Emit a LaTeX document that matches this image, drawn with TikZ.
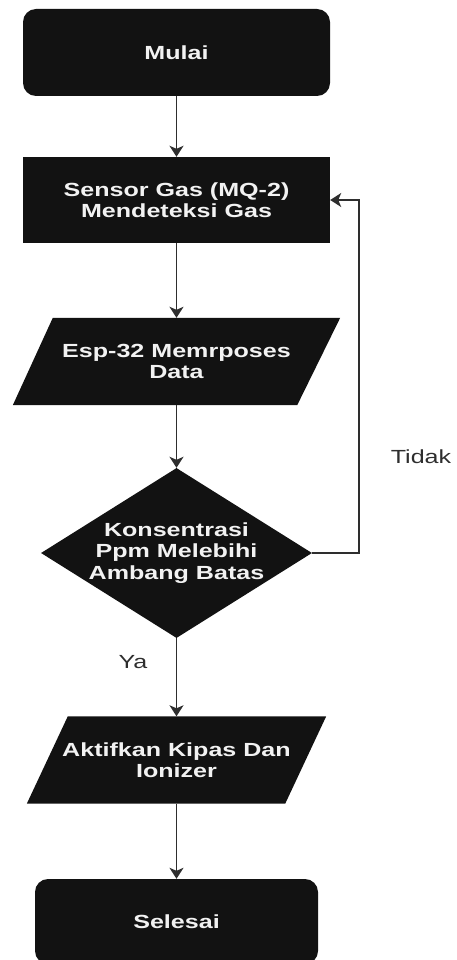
\documentclass[tikz,border=0pt]{standalone}
\usepackage{fontspec}
\setmainfont{Liberation Sans}[FakeStretch=1.32]
\usetikzlibrary{arrows.meta,shapes.geometric,backgrounds,calc}
\definecolor{boxc}{HTML}{121212}
\definecolor{txtc}{HTML}{F2F2F2}
\definecolor{linec}{HTML}{2E2E2E}
\begin{document}
\begin{tikzpicture}[x=1pt,y=-1pt,
  base/.style={inner sep=0pt, align=center, text=txtc,
    font=\fontsize{19}{21.5}\selectfont\bfseries},
  termbox/.style={base, rectangle, rounded corners=13pt, fill=boxc,
    minimum width=307pt, minimum height=87pt},
  procbox/.style={base, rectangle, fill=boxc,
    minimum width=307pt, minimum height=86pt},
  iobox/.style={base, rectangle, minimum height=87pt},
  decbox/.style={base, diamond, fill=boxc,
    minimum width=271pt, minimum height=170pt},
  lbl/.style={text=linec, inner sep=0pt, font=\fontsize{19}{21.5}\selectfont},
  arr/.style={draw=linec, line width=1.5pt,
    -{Stealth[length=11pt,width=14pt,inset=3pt]}}
]
\path[use as bounding box, clip] (0,0) rectangle (456,960);

\node[termbox] (mulai) at (176.5,52.5) {Mulai};
\node[procbox] (sensor) at (176.5,200) {Sensor Gas (MQ-2)\\Mendeteksi Gas};
\node[iobox, minimum width=327pt] (esp) at (176.5,361.5) {Esp-32 Memrposes\\Data};
\node[decbox, label={[base, name=dectext]center:{Konsentrasi\\Ppm Melebihi\\Ambang Batas}}] (dec) at (176.5,553) {};
\node[iobox, minimum width=299pt] (akt) at (176.5,760) {Aktifkan Kipas Dan\\Ionizer};
\node[termbox, minimum width=283pt, minimum height=85pt] (selesai) at (176.5,921.5) {Selesai};

\begin{scope}[on background layer]
  \fill[boxc] ($(esp.north west)+(40,0)$) -- (esp.north east)
    -- ($(esp.south east)+(-43,0)$) -- (esp.south west) -- cycle;
  \fill[boxc] ($(akt.north west)+(41,0)$) -- (akt.north east)
    -- ($(akt.south east)+(-41,0)$) -- (akt.south west) -- cycle;
\end{scope}

\coordinate (fb) at (359,553);

\draw[arr] (mulai) -- (sensor);
\draw[arr] (sensor) -- (esp);
\draw[arr] (esp) -- (dec);
\draw[arr] (dec) -- (akt);
\draw[arr] (akt) -- (selesai);
\draw[arr] (dec.east) -- (fb) |- (sensor.east);

\node[lbl] (tidak) at (421,457) {Tidak};
\node[lbl] (ya) at (133,662) {Ya};
\end{tikzpicture}
\end{document}
